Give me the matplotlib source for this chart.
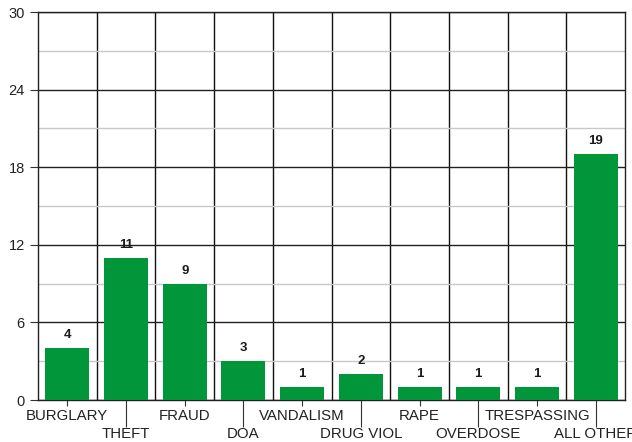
import matplotlib.pyplot as plt
from matplotlib.ticker import MultipleLocator, FixedLocator

# counts per offense
categories = ['BURGLARY', 'THEFT', 'FRAUD', 'DOA', 'VANDALISM',
              'DRUG VIOL', 'RAPE', 'OVERDOSE', 'TRESPASSING', 'ALL OTHER']
counts = [4, 11, 9, 3, 1, 2, 1, 1, 1, 19]

plt.rcParams['font.family'] = ['Liberation Sans', 'DejaVu Sans']

fig = plt.figure(figsize=(6.32, 4.42), dpi=100)
ax = fig.add_axes([38 / 632, 42 / 442, 587 / 632, 388 / 442])

x = list(range(len(categories)))
bars = ax.bar(x, counts, width=0.75, color='#009639', zorder=3)
ax.bar_label(bars, padding=5, fontsize=9.5, fontweight='bold', color='#1a1a1a')

ax.set_xlim(-0.5, len(categories) - 0.5)
ax.set_ylim(0, 30)

# y grid: dark major lines every 6, light minor ones between
ax.yaxis.set_major_locator(MultipleLocator(6))
ax.yaxis.set_minor_locator(MultipleLocator(3))
ax.grid(which='major', axis='y', color='#222222', linewidth=1, zorder=1)
ax.grid(which='minor', axis='y', color='#c8c8c8', linewidth=1, zorder=0)

# vertical separators between categories
ax.xaxis.set_minor_locator(FixedLocator([i + 0.5 for i in x[:-1]]))
ax.grid(which='minor', axis='x', color='#111111', linewidth=1, zorder=1)
ax.tick_params(axis='x', which='minor', length=0)
ax.tick_params(axis='y', which='minor', length=0)

# staggered labels, every other one pushed down a row
ax.set_xticks(x)
ax.set_xticklabels(categories, fontsize=10.8, color='#222222')
ax.tick_params(axis='x', which='major', length=4.3, pad=2.5, color='#333333')
for i, t in enumerate(ax.xaxis.get_major_ticks()):
    if i % 2 == 1:
        t.set_pad(15)
        t.tick1line.set_markersize(19.5)

ax.tick_params(axis='y', which='major', length=6, labelsize=10.5,
               labelcolor='#222222', color='#333333')

for s in ax.spines.values():
    s.set_color('#222222')
    s.set_linewidth(1)

fig.savefig('out.png', dpi=100)
